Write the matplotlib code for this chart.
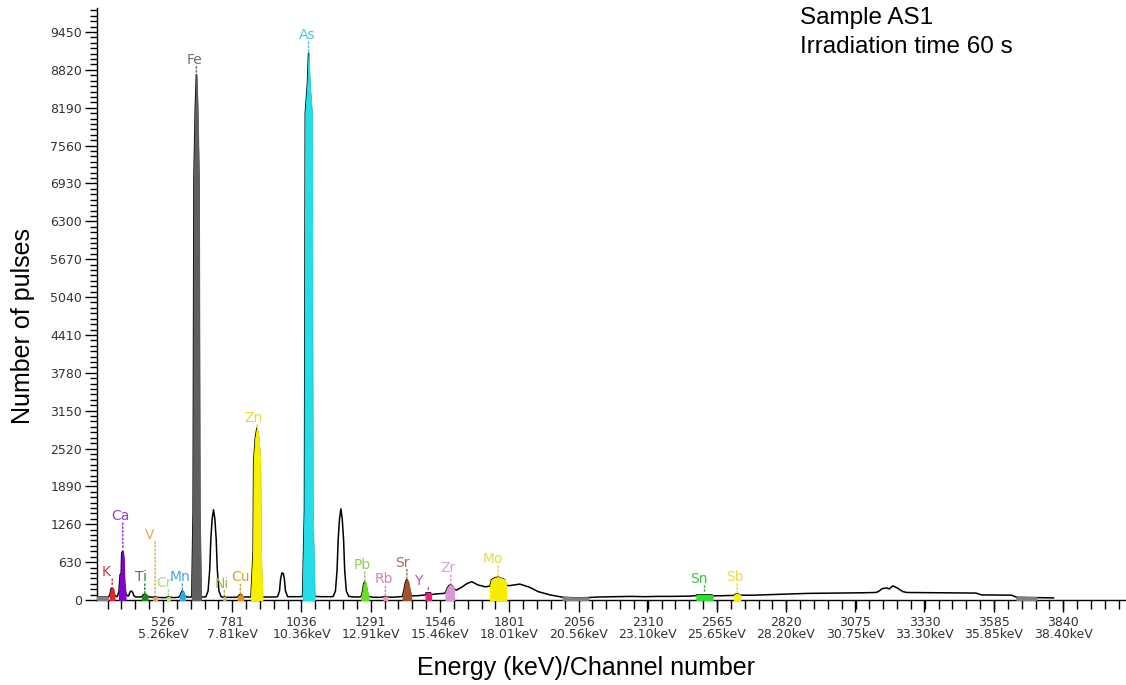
import numpy as np
import matplotlib
matplotlib.use("Agg")
import matplotlib.pyplot as plt
from matplotlib.ticker import FixedLocator

# ---------------- data ----------------
# spectrum: channel number vs number of pulses
spec_ch = [283, 300, 322,
           326, 331, 335, 339, 343, 347, 352,
           358, 364, 368, 372, 374, 378, 381, 384, 388, 394,
           400, 404, 409, 414, 419, 426, 440,
           448, 453, 459, 464, 469, 478,
           490, 497, 504, 520, 535,
           541, 546, 551, 565, 583,
           588, 593, 597, 601, 606, 614, 626,
           632, 637, 640, 645, 649, 653, 658, 661, 666, 675,
           684, 692, 698, 702, 707, 712, 717, 722, 726, 732, 740,
           748, 752, 756, 770, 795,
           801, 806, 811, 816, 821, 835,
           850, 858, 860, 866, 872, 878, 884, 886, 892, 920, 940,
           948, 955, 959, 964, 969, 973, 977, 985, 1010, 1030,
           1040, 1047, 1050, 1058, 1062, 1066, 1074, 1077, 1084, 1110, 1145,
           1153, 1161, 1167, 1171, 1176, 1181, 1186, 1191, 1195, 1201, 1210, 1230, 1250,
           1256, 1261, 1265, 1269, 1273, 1277, 1283, 1300, 1330,
           1338, 1345, 1352, 1370, 1400,
           1408, 1414, 1419, 1424, 1429, 1434, 1440, 1460, 1485,
           1493, 1495, 1511, 1513, 1530, 1560,
           1566, 1573, 1580, 1586, 1592, 1598,
           1607, 1625, 1644, 1663, 1686, 1712,
           1730, 1736, 1748, 1760, 1772, 1784, 1790,
           1804, 1840, 1877, 1907, 1951, 1999, 2050, 2090, 2130, 2200, 2250, 2300,
           2350, 2400, 2470,
           2490, 2492, 2548, 2550, 2580, 2610,
           2628, 2633, 2640, 2647, 2652,
           2700, 2800, 2900, 3000, 3100, 3150,
           3160, 3175, 3190, 3200, 3214, 3230, 3250, 3265,
           3400, 3520, 3540, 3650, 3670, 3740, 3805]
spec_cnt = [45, 50, 50,
            50, 100, 190, 200, 180, 90, 60,
            60, 150, 420, 440, 780, 815, 700, 300, 120, 70,
            70, 130, 150, 130, 70, 50, 50,
            55, 85, 100, 90, 60, 50,
            45, 55, 45, 40, 40,
            45, 55, 45, 40, 45,
            60, 120, 150, 140, 70, 50, 50,
            50, 1500, 7000, 8200, 8740, 8200, 7000, 1500, 50, 50,
            55, 150, 500, 1000, 1350, 1500, 1350, 1000, 500, 150, 55,
            45, 55, 45, 45, 45,
            50, 80, 95, 85, 50, 50,
            50, 800, 2300, 2700, 2860, 2700, 2300, 800, 50, 50, 50,
            55, 150, 350, 450, 440, 350, 150, 55, 55, 55,
            60, 1500, 8100, 8600, 9100, 8600, 8100, 1500, 60, 55, 55,
            60, 150, 500, 1000, 1350, 1515, 1350, 1000, 500, 150, 60, 50, 50,
            60, 150, 270, 300, 270, 150, 60, 45, 45,
            50, 60, 50, 45, 55,
            60, 180, 300, 340, 300, 180, 70, 70, 80,
            85, 120, 120, 90, 100, 110,
            120, 200, 245, 250, 230, 180,
            165, 210, 270, 305, 250, 220,
            230, 340, 370, 380, 360, 340, 240,
            240, 265, 210, 140, 85, 45, 35, 40, 50, 55, 60, 55,
            60, 60, 65,
            75, 85, 85, 70, 70, 75,
            75, 95, 100, 95, 80,
            80, 95, 110, 115, 120, 125,
            140, 190, 200, 185, 235, 200, 140, 125,
            120, 115, 85, 80, 45, 40, 35]

# identified element peaks
elements = ["K", "Ca", "Ti", "V", "Cr", "Mn", "Fe", "Ni", "Cu", "Zn", "As",
            "Pb", "Rb", "Sr", "Y", "Zr", "Mo", "Sn", "Sb"]
peak_ch = [339, 378, 459, 497, 546, 597, 649, 752, 811, 872, 1062,
           1269, 1345, 1424, 1503, 1586, 1760, 2520, 2640]
fill_lo = [331, 364, 448, 490, 541, 588, 632, 748, 801, 850, 1040,
           1256, 1338, 1408, 1493, 1566, 1730, 2490, 2628]
fill_hi = [347, 388, 469, 504, 551, 606, 666, 756, 821, 892, 1084,
           1283, 1352, 1440, 1513, 1598, 1790, 2550, 2652]

# axis ticks
tick_channels = [526, 781, 1036, 1291, 1546, 1801, 2056, 2310, 2565, 2820,
                 3075, 3330, 3585, 3840]
tick_energies = ["5.26", "7.81", "10.36", "12.91", "15.46", "18.01", "20.56",
                 "23.10", "25.65", "28.20", "30.75", "33.30", "35.85", "38.40"]
y_ticks = [0, 630, 1260, 1890, 2520, 3150, 3780, 4410, 5040, 5670, 6300,
           6930, 7560, 8190, 8820, 9450]

# ---------------- styles ----------------
fill_colors = ["#e8202a", "#8000d0", "#1e8a1e", "#f0a040", "#b0f060", "#30a8f0",
               "#5f5f5f", "#c8c060", "#f08c20", "#f8f000", "#24dde9",
               "#66e020", "#f090c0", "#a0522d", "#e8207a", "#d898d8",
               "#f8ec00", "#30e030", "#f8ee10"]
label_colors = ["#c84040", "#9a40c8", "#2e8b2e", "#e0b050", "#a8e070", "#40a8e0",
                "#707070", "#b0b050", "#d8a030", "#e8d838", "#40c8e8",
                "#90d050", "#d880b8", "#a87050", "#c050a0", "#d8a0e0",
                "#e8d848", "#40c040", "#e8dc50"]
label_dx = [-6, -2, -4, -5, -4, -2, -2, -3, 0, -3, -1, -3, -2, -4, -10, -3, -5, -6, -2]
label_dy = [16, 35, 17, 62, 14, 14, 15, 13, 17, 10, 18, 17, 17, 17, 12, 17, 18, 16, 17]
gray_bands = [(283, 322), (1999, 2090), (3670, 3740)]

W, H = 1126, 685
fig = plt.figure(figsize=(W / 100, H / 100), dpi=100)
ax = fig.add_axes([97 / W, 85 / H, 1 - 97 / W, (600 - 8) / H])

ch = np.array(spec_ch, dtype=float)
cnt = np.array(spec_cnt, dtype=float)

ax.plot(ch, cnt, color="black", lw=1.1, zorder=3)

for lo, hi in gray_bands:
    m = (ch >= lo) & (ch <= hi)
    ax.fill_between(ch[m], cnt[m], 0, color="#808080", lw=1.5, edgecolor="#808080", zorder=3.5)

PT = 0.72  # pixels -> points at 100 dpi
for i, name in enumerate(elements):
    m = (ch >= fill_lo[i]) & (ch <= fill_hi[i])
    ax.fill_between(ch[m], cnt[m], 0, facecolor=fill_colors[i],
                    edgecolor=fill_colors[i], lw=0.8, zorder=4)
    top = np.interp(peak_ch[i], ch, cnt)
    # label
    ax.annotate(name, xy=(peak_ch[i], top),
                xytext=(label_dx[i] * PT, label_dy[i] * PT),
                textcoords="offset points", ha="center", va="center",
                fontsize=10, color=label_colors[i], zorder=5)
    # vertical dotted marker from the label down to the peak
    ax.annotate("", xy=(peak_ch[i], top), xytext=(0, (label_dy[i] - 7) * PT),
                textcoords="offset points", zorder=5,
                arrowprops=dict(arrowstyle="-", linestyle=(0, (1, 1.5)),
                                color=label_colors[i], lw=1.1,
                                shrinkA=0, shrinkB=1))

ax.set_xlim(283, 4072)
ax.set_ylim(0, 9850)

for s in ["top", "right"]:
    ax.spines[s].set_visible(False)
for s in ["left", "bottom"]:
    ax.spines[s].set_linewidth(1.0)
    ax.spines[s].set_color("black")

ax.xaxis.set_major_locator(FixedLocator(tick_channels))
ax.set_xticklabels([f"{c}\n{e}keV" for c, e in zip(tick_channels, tick_energies)])
ax.xaxis.set_minor_locator(FixedLocator(np.arange(526 - 4 * 51, 4072, 51)))
ax.yaxis.set_major_locator(FixedLocator(y_ticks))
ax.set_yticklabels([str(v) for v in y_ticks])
ax.yaxis.set_minor_locator(FixedLocator(np.arange(0, 9850, 90)))

ax.tick_params(axis="x", which="major", length=8.6, width=1, labelsize=9,
               pad=3.2, labelcolor="#333333", direction="out")
ax.tick_params(axis="x", which="minor", length=6.3, width=1, direction="out")
ax.tick_params(axis="y", which="major", length=8.6, width=1, labelsize=9,
               pad=2.2, labelcolor="#333333", direction="out")
ax.tick_params(axis="y", which="minor", length=5.4, width=1, direction="out")
for t in ax.get_xticklabels():
    t.set_linespacing(0.9)
    t.set_family("DejaVu Sans")
for t in ax.get_yticklabels():
    t.set_family("DejaVu Sans")

lab_font = "Liberation Sans"
fig.text(23 / W, 1 - 326 / H, "Number of pulses", rotation=90, ha="center",
         va="center", fontsize=18, family=lab_font)
fig.text(586 / W, 1 - 668 / H, "Energy (keV)/Channel number", ha="center",
         va="center", fontsize=18, family=lab_font)
fig.text(800 / W, 1 - 18 / H, "Sample AS1", ha="left", va="center",
         fontsize=17.5, family=lab_font)
fig.text(800 / W, 1 - 47 / H, "Irradiation time 60 s", ha="left", va="center",
         fontsize=17.5, family=lab_font)

fig.savefig("out.png", dpi=100)
